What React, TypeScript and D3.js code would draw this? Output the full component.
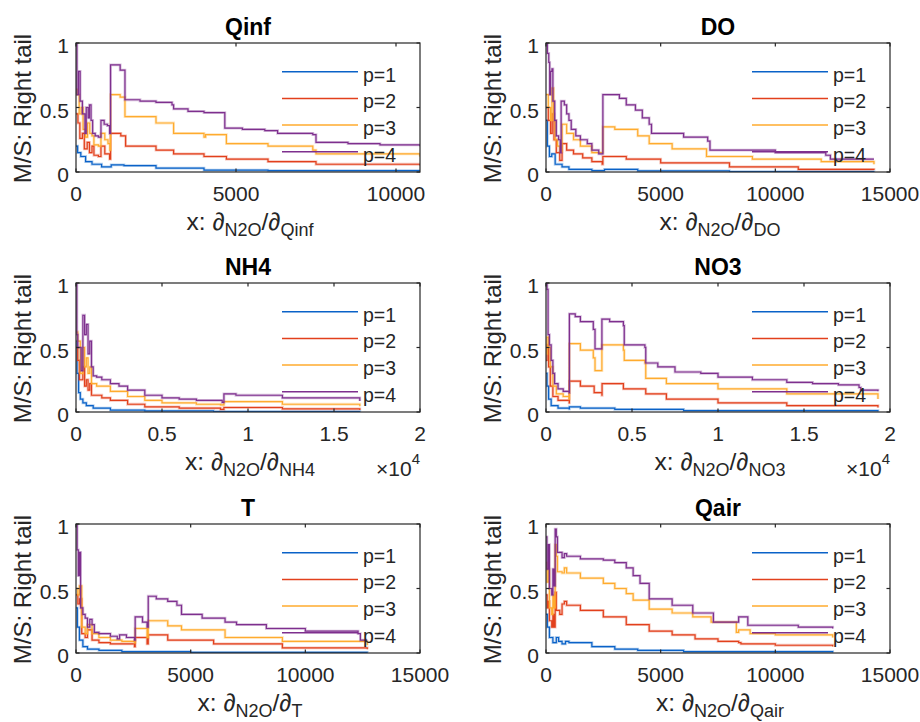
import React from 'react';
import * as d3 from 'd3';

type Pt = [number, number];

// step curves: [x, value] where the value holds until the next x

// Qinf
const qinfP1: Pt[] = [[0,0.2],[50,0.15],[150,0.12],[300,0.08],[500,0.06],[800,0.04],[1050,0.04],[1100,0.055],[1500,0.05],[2500,0.03],[4000,0.015],[6000,0.01],[10750,0.005]];
const qinfP2: Pt[] = [[0,0.45],[60,0.38],[120,0.26],[200,0.3],[260,0.18],[350,0.23],[420,0.15],[500,0.2],[560,0.13],[700,0.12],[780,0.2],[900,0.14],[1050,0.1],[1080,0.3],[1400,0.28],[1550,0.2],[2500,0.17],[3050,0.14],[4000,0.12],[4700,0.1],[6000,0.08],[7500,0.06],[10750,0.05]];
const qinfP3: Pt[] = [[0,0.64],[40,0.6],[100,0.45],[160,0.5],[220,0.33],[300,0.27],[360,0.38],[430,0.3],[500,0.28],[560,0.21],[700,0.2],[780,0.3],[900,0.25],[1000,0.22],[1060,0.17],[1080,0.6],[1380,0.58],[1530,0.43],[2500,0.38],[3050,0.3],[4000,0.27],[4050,0.29],[4700,0.22],[6000,0.2],[7400,0.17],[7500,0.14],[10750,0.12]];
const qinfP4: Pt[] = [[0,1],[30,0.6],[80,0.78],[130,0.55],[200,0.45],[280,0.3],[320,0.5],[380,0.42],[420,0.52],[470,0.4],[520,0.3],[600,0.28],[700,0.27],[780,0.4],[880,0.37],[980,0.36],[1050,0.3],[1080,0.83],[1380,0.79],[1530,0.56],[2000,0.55],[2500,0.54],[3000,0.52],[3050,0.49],[3500,0.47],[4000,0.46],[4650,0.34],[5200,0.33],[5900,0.32],[6300,0.3],[6800,0.3],[7400,0.29],[7500,0.23],[8500,0.22],[9500,0.21],[10750,0.2]];

// DO
const doP1: Pt[] = [[0,0.4],[60,0.2],[150,0.12],[250,0.14],[400,0.06],[700,0.04],[1000,0.02],[2000,0.01],[2500,0.01],[2550,0.02],[4000,0.008],[8000,0.003],[14300,0.001]];
const doP2: Pt[] = [[0,0.5],[100,0.4],[200,0.3],[270,0.45],[350,0.25],[450,0.15],[600,0.09],[700,0.22],[900,0.17],[1200,0.14],[1600,0.11],[2000,0.08],[2450,0.06],[2480,0.12],[3500,0.1],[5000,0.07],[8000,0.04],[11000,0.02],[14300,0.015]];
const doP3: Pt[] = [[0,0.6],[100,0.5],[200,0.4],[260,0.65],[330,0.4],[400,0.25],[500,0.2],[600,0.16],[700,0.37],[900,0.3],[1200,0.25],[1500,0.2],[2000,0.15],[2480,0.35],[3000,0.33],[4000,0.28],[4500,0.22],[5500,0.18],[7000,0.12],[9000,0.1],[12000,0.08],[14300,0.06]];
const doP4: Pt[] = [[0,1],[60,0.92],[120,0.85],[160,0.6],[200,0.78],[260,0.8],[300,0.55],[380,0.4],[450,0.28],[550,0.25],[620,0.15],[660,0.55],[800,0.52],[900,0.45],[1000,0.4],[1100,0.33],[1300,0.28],[1500,0.25],[1800,0.22],[2000,0.17],[2300,0.14],[2480,0.6],[3200,0.57],[3500,0.52],[3900,0.48],[4200,0.42],[4500,0.37],[4600,0.3],[6000,0.27],[7050,0.24],[7150,0.17],[10000,0.15],[12200,0.13],[12400,0.1],[14300,0.1]];

// NH4
const nh4P1: Pt[] = [[0,0.55],[60,0.3],[150,0.15],[250,0.1],[400,0.07],[600,0.05],[1000,0.03],[2000,0.015],[4000,0.008],[8000,0.004],[16500,0.002]];
const nh4P2: Pt[] = [[0,0.5],[100,0.4],[200,0.25],[400,0.35],[500,0.2],[600,0.25],[700,0.17],[800,0.22],[900,0.13],[1500,0.11],[2000,0.09],[3000,0.06],[4000,0.04],[6000,0.03],[8400,0.02],[8600,0.035],[12000,0.025],[16500,0.015]];
const nh4P3: Pt[] = [[0,0.62],[100,0.55],[250,0.3],[400,0.5],[500,0.35],[600,0.42],[700,0.3],[800,0.35],[900,0.22],[1200,0.2],[2000,0.16],[3000,0.12],[4000,0.09],[5000,0.07],[7000,0.06],[8400,0.055],[8600,0.08],[12000,0.06],[16500,0.045]];
const nh4P4: Pt[] = [[0,1],[50,0.6],[100,0.5],[300,0.32],[400,0.75],[500,0.6],[600,0.68],[700,0.45],[800,0.55],[900,0.35],[1000,0.28],[1200,0.27],[1500,0.25],[2000,0.22],[2500,0.2],[3000,0.17],[4000,0.13],[5000,0.11],[6000,0.1],[7000,0.09],[8500,0.075],[8600,0.14],[9300,0.13],[12000,0.11],[16500,0.085]];

// NO3
const no3P1: Pt[] = [[0,0.3],[60,0.2],[150,0.1],[300,0.05],[700,0.03],[1350,0.025],[1360,0.04],[2000,0.03],[4000,0.02],[8000,0.01],[19300,0.003]];
const no3P2: Pt[] = [[0,0.4],[60,0.52],[150,0.35],[250,0.2],[400,0.12],[700,0.09],[1350,0.07],[1360,0.24],[2000,0.2],[2800,0.15],[3250,0.13],[3260,0.22],[4500,0.18],[5800,0.14],[7000,0.1],[10000,0.07],[14000,0.05],[19300,0.035]];
const no3P3: Pt[] = [[0,0.45],[60,0.58],[150,0.5],[250,0.35],[400,0.2],[600,0.14],[1000,0.12],[1350,0.1],[1360,0.53],[2000,0.48],[2750,0.42],[2850,0.32],[3250,0.52],[4500,0.48],[4550,0.4],[5750,0.38],[5800,0.26],[7000,0.22],[10000,0.18],[14000,0.14],[19300,0.1]];
const no3P4: Pt[] = [[0,1],[60,0.95],[120,0.6],[200,0.52],[300,0.4],[400,0.3],[500,0.22],[700,0.18],[1000,0.16],[1350,0.15],[1360,0.76],[1700,0.74],[2000,0.7],[2750,0.64],[2850,0.49],[3250,0.72],[3700,0.7],[4500,0.67],[4550,0.52],[5750,0.5],[5800,0.38],[6500,0.35],[7500,0.31],[9000,0.3],[10000,0.27],[12000,0.25],[14000,0.23],[15500,0.22],[17000,0.21],[18200,0.19],[18300,0.17],[19300,0.16]];

// T
const tP1: Pt[] = [[0,0.35],[60,0.2],[150,0.1],[300,0.05],[500,0.03],[1000,0.02],[2000,0.01],[5000,0.005],[12700,0.002]];
const tP2: Pt[] = [[0,0.45],[80,0.38],[150,0.42],[250,0.15],[400,0.12],[500,0.18],[700,0.1],[1000,0.08],[1500,0.07],[2550,0.05],[2580,0.12],[3100,0.07],[3150,0.14],[4000,0.1],[6000,0.07],[9000,0.04],[12700,0.03]];
const tP3: Pt[] = [[0,0.5],[80,0.45],[150,0.52],[250,0.2],[400,0.15],[500,0.22],[700,0.15],[1000,0.12],[1500,0.1],[2000,0.09],[2550,0.08],[2580,0.19],[3100,0.12],[3150,0.25],[4000,0.21],[4600,0.18],[6500,0.12],[9000,0.09],[12700,0.06]];
const tP4: Pt[] = [[0,1],[50,0.8],[100,0.6],[150,0.78],[200,0.35],[300,0.3],[400,0.27],[500,0.2],[600,0.26],[700,0.22],[800,0.16],[1000,0.15],[1500,0.13],[1800,0.11],[1900,0.14],[2200,0.12],[2550,0.1],[2580,0.28],[2900,0.24],[3100,0.2],[3150,0.44],[3500,0.42],[4000,0.4],[4400,0.37],[4600,0.3],[5500,0.27],[6500,0.24],[7000,0.22],[8300,0.19],[10000,0.17],[12300,0.15],[12400,0.1],[12700,0.1]];

// Qair
const qairP1: Pt[] = [[0,0.3],[60,0.2],[150,0.12],[300,0.08],[450,0.12],[550,0.09],[700,0.07],[850,0.09],[1000,0.08],[2000,0.05],[3000,0.03],[4000,0.02],[6000,0.01],[12500,0.003]];
const qairP2: Pt[] = [[0,0.45],[50,0.35],[100,0.4],[150,0.25],[250,0.2],[300,0.3],[350,0.2],[400,0.47],[450,0.33],[600,0.3],[700,0.38],[800,0.4],[900,0.37],[1500,0.33],[2500,0.28],[3500,0.22],[4500,0.17],[5500,0.14],[6500,0.11],[7500,0.09],[8400,0.08],[8500,0.07],[10000,0.06],[12500,0.05]];
const qairP3: Pt[] = [[0,0.7],[40,0.55],[100,0.65],[150,0.35],[250,0.3],[300,0.45],[350,0.35],[400,0.84],[450,0.75],[500,0.63],[700,0.62],[800,0.66],[900,0.62],[1500,0.58],[2500,0.54],[3000,0.5],[3500,0.46],[3800,0.41],[4500,0.34],[5500,0.31],[6400,0.28],[7200,0.24],[8300,0.16],[8400,0.18],[8900,0.15],[10000,0.14],[12500,0.12]];
const qairP4: Pt[] = [[0,0.9],[40,0.65],[100,0.84],[150,0.5],[250,0.45],[300,0.65],[350,0.52],[400,0.96],[450,0.9],[500,0.78],[700,0.74],[800,0.77],[900,0.75],[1500,0.73],[2500,0.72],[3000,0.7],[3500,0.66],[3800,0.6],[4100,0.54],[4500,0.42],[5500,0.37],[6400,0.31],[7300,0.24],[8400,0.28],[8800,0.215],[11000,0.2],[12500,0.19]];

const seriesNames = ['p=1', 'p=2', 'p=3', 'p=4'];
const seriesColors = ['#0a62c8', '#e2401c', '#ffab2e', '#7e2f8e'];
const yTicks = [0, 0.5, 1];
const ticks15k = [0, 5000, 10000, 15000];
const ticks2e4 = [0, 5000, 10000, 15000, 20000];

const panels = [
  { title: 'Qinf', sub: 'Qinf', xMax: 10750, xTicks: [0, 5000, 10000], exp: false, data: [qinfP1, qinfP2, qinfP3, qinfP4] },
  { title: 'DO', sub: 'DO', xMax: 15000, xTicks: ticks15k, exp: false, data: [doP1, doP2, doP3, doP4] },
  { title: 'NH4', sub: 'NH4', xMax: 20000, xTicks: ticks2e4, exp: true, data: [nh4P1, nh4P2, nh4P3, nh4P4] },
  { title: 'NO3', sub: 'NO3', xMax: 20000, xTicks: ticks2e4, exp: true, data: [no3P1, no3P2, no3P3, no3P4] },
  { title: 'T', sub: 'T', xMax: 15000, xTicks: ticks15k, exp: false, data: [tP1, tP2, tP3, tP4] },
  { title: 'Qair', sub: 'Qair', xMax: 15000, xTicks: ticks15k, exp: false, data: [qairP1, qairP2, qairP3, qairP4] },
];

const W = 920;
const H = 722;
const colLeft = [76, 546];
const rowTop = [43, 283, 524];
const boxW = 344;
const boxH = 129;
const axisColor = '#262626';
const font = 'Liberation Sans, Arial, sans-serif';

function Panel({ p, i }: { p: typeof panels[number]; i: number }) {
  const left = colLeft[i % 2];
  const top = rowTop[Math.floor(i / 2)];
  const x = d3.scaleLinear().domain([0, p.xMax]).range([left, left + boxW]);
  const y = d3.scaleLinear().domain([0, 1]).range([top + boxH, top]);
  const line = d3.line<Pt>().x(d => x(d[0])).y(d => y(d[1])).curve(d3.curveStepAfter);
  const clipId = `clip${i}`;
  const tl = 3.5;
  const cx = left + boxW / 2;
  const fmt = (v: number) => (p.exp ? d3.format('~g')(v / 10000) : String(v));

  return (
    <g fontFamily={font}>
      <defs>
        <clipPath id={clipId}>
          <rect x={left} y={top} width={boxW} height={boxH} />
        </clipPath>
      </defs>
      <rect x={left} y={top} width={boxW} height={boxH} fill="#fff" />
      <g clipPath={`url(#${clipId})`}>
        {p.data.map((s, k) => (
          <g key={k}>
            <path d={line(s) || ''} fill="none" stroke={seriesColors[k]} strokeWidth={2.8} strokeOpacity={0.3} />
            <path d={line(s) || ''} fill="none" stroke={seriesColors[k]} strokeWidth={1.2} />
          </g>
        ))}
      </g>
      {/* legend, no box */}
      {seriesNames.map((n, k) => {
        const ly = top + 28.7 + k * 26.7;
        return (
          <g key={n}>
            <line x1={left + 206} x2={left + 282} y1={ly} y2={ly} stroke={seriesColors[k]} strokeWidth={1.5} />
            <text x={left + 287} y={ly + 10} fontSize={19.5} fill={axisColor}>{n}</text>
          </g>
        );
      })}
      <rect x={left} y={top} width={boxW} height={boxH} fill="none" stroke={axisColor} strokeWidth={1.2} />
      {p.xTicks.map(t => (
        <g key={t}>
          <line x1={x(t)} x2={x(t)} y1={top + boxH} y2={top + boxH - tl} stroke={axisColor} strokeWidth={1.2} />
          <line x1={x(t)} x2={x(t)} y1={top} y2={top + tl} stroke={axisColor} strokeWidth={1.2} />
          <text x={x(t)} y={top + boxH + 29} fontSize={21} textAnchor="middle" fill={axisColor}>{fmt(t)}</text>
        </g>
      ))}
      {yTicks.map(t => (
        <g key={t}>
          <line x1={left} x2={left + tl} y1={y(t)} y2={y(t)} stroke={axisColor} strokeWidth={1.2} />
          <line x1={left + boxW} x2={left + boxW - tl} y1={y(t)} y2={y(t)} stroke={axisColor} strokeWidth={1.2} />
          <text x={left - 7} y={y(t) + 10} fontSize={21} textAnchor="end" fill={axisColor}>{String(t)}</text>
        </g>
      ))}
      {p.exp && (
        <text x={left + boxW} y={top + boxH + 64} fontSize={21} textAnchor="end" fill={axisColor}>
          ×10<tspan fontSize={15} dy={-12}>4</tspan>
        </text>
      )}
      <text x={cx} y={top - 8} fontSize={23} fontWeight="bold" textAnchor="middle" fill="#000">{p.title}</text>
      <text x={cx + 2} y={top + boxH + 58} fontSize={24.5} textAnchor="middle" fill={axisColor}>
        x: ∂<tspan fontSize={18} dy={6}>N2O</tspan><tspan dy={-6}>/∂</tspan><tspan fontSize={18} dy={6}>{p.sub}</tspan>
      </text>
      <text transform={`translate(${left - 45},${top + boxH / 2 + 1}) rotate(-90)`} fontSize={24} textAnchor="middle" fill={axisColor}>M/S: Right tail</text>
    </g>
  );
}

export default function App() {
  return (
    <svg width={W} height={H} style={{ position: 'absolute', left: 0, top: 0, background: '#fff' }}>
      <rect width={W} height={H} fill="#fff" />
      {panels.map((p, i) => (
        <Panel key={p.title} p={p} i={i} />
      ))}
    </svg>
  );
}
